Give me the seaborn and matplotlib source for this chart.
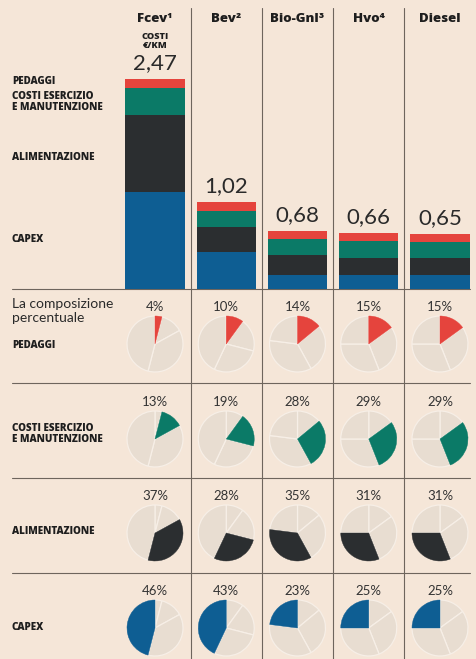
import matplotlib
matplotlib.use("Agg")
import matplotlib.pyplot as plt
import seaborn as sns
import numpy as np
import pandas as pd

# dati
categorie = ["Fcev¹", "Bev²", "Bio-Gnl³", "Hvo⁴", "Diesel"]
totali_label = ["2,47", "1,02", "0,68", "0,66", "0,65"]
capex = [1.14, 0.44, 0.16, 0.165, 0.16]
alimentazione = [0.91, 0.29, 0.24, 0.205, 0.20]
costi_esercizio = [0.32, 0.19, 0.19, 0.19, 0.19]
pedaggi = [0.10, 0.10, 0.09, 0.10, 0.10]

pct_pedaggi = [4, 10, 14, 15, 15]
pct_costi = [13, 19, 28, 29, 29]
pct_alim = [37, 28, 35, 31, 31]
pct_capex = [46, 43, 23, 25, 25]

voci = ["PEDAGGI", "COSTI ESERCIZIO\nE MANUTENZIONE", "ALIMENTAZIONE", "CAPEX"]

# colori
BG = "#f5e6d8"
PIE_BG = "#e8ddd1"
ROSSO = "#e5443d"
VERDE = "#0b7a67"
NERO = "#2b2e30"
BLU = "#0e5e93"
LINEA = "#6e655d"
colori = [ROSSO, VERDE, NERO, BLU]

sns.set_theme(style="white")
plt.rcParams['font.family'] = ['Open Sans', 'DejaVu Sans']
plt.rcParams['figure.facecolor'] = BG

FONT_NUM = ['Lato', 'DejaVu Sans']
FONT_BOLD = ['Open Sans', 'DejaVu Sans']

W, H = 477, 659
fig = plt.figure(figsize=(W / 100, H / 100), dpi=100)
fig.patch.set_facecolor(BG)

# layout in pixel
x0 = 155.0
passo = 71.25
base_y = 289
px_per_unit = 85.0

# asse di sfondo per linee e testi
ov = fig.add_axes([0, 0, 1, 1])
ov.set_xlim(0, W)
ov.set_ylim(H, 0)
ov.axis("off")
ov.patch.set_alpha(0)

for k in range(4):
    xs = x0 + passo * (k + 0.5)
    ov.plot([xs, xs], [8, H], color=LINEA, lw=0.8)
for ys in [base_y, 383, 478, 573]:
    ov.plot([12, 470], [ys, ys], color=LINEA, lw=0.8)

# --- barre impilate ---
df = pd.DataFrame({
    "cat": categorie,
    "capex": capex,
    "alim": alimentazione,
    "costi": costi_esercizio,
    "pedaggi": pedaggi,
})
df["l1"] = df["capex"]
df["l2"] = df["l1"] + df["alim"]
df["l3"] = df["l2"] + df["costi"]
df["l4"] = df["l3"] + df["pedaggi"]

axb = fig.add_axes([12.5 / W, (H - base_y) / H, passo * 6.5 / W, base_y / H])
for col, c in zip(["l4", "l3", "l2", "l1"], colori):
    sns.barplot(data=df, x="cat", y=col, color=c, saturation=1, width=0.83,
                ax=axb, order=categorie, linewidth=0, edgecolor="none")
axb.set_xlim(-2, 4.5)
axb.set_ylim(0, base_y / px_per_unit)
axb.axis("off")
axb.patch.set_alpha(0)

for i, lab in enumerate(totali_label):
    axb.text(i, df["l4"][i] + 0.07, lab, ha="center", va="bottom",
             fontsize=16, family=FONT_NUM, color="#2a2a2a")

# intestazioni colonne
for i, c in enumerate(categorie):
    ov.text(x0 + passo * i, 19, c, ha="center", va="center",
            fontsize=9.5, fontweight=800, family=FONT_BOLD, color="#1e1e1e")
ov.text(x0, 41, "COSTI\n€/KM", ha="center", va="center", fontsize=6.6,
        fontweight=800, family=FONT_BOLD, color="#1e1e1e", linespacing=0.9)

# etichette a sinistra delle barre
lab_kw = dict(ha="left", va="center", fontsize=7.1, fontweight=800,
              family=FONT_BOLD, color="#1e1e1e", linespacing=0.9)
ov.text(12, 82, voci[0], **lab_kw)
ov.text(12, 102, voci[1], **lab_kw)
ov.text(12, 158, voci[2], **lab_kw)
ov.text(12, 240, voci[3], **lab_kw)

# --- torte ---
ov.text(12, 311, "La composizione\npercentuale", ha="left", va="center",
        fontsize=10, family=FONT_NUM, color="#2a2a2a", linespacing=1.1)

righe_y = [344, 439, 533, 628]
etich_y = [346, 434, 532, 627]
raggio = 28
percentuali = np.array([pct_pedaggi, pct_costi, pct_alim, pct_capex])

for r in range(4):
    ov.text(12, etich_y[r], voci[r], **lab_kw)
    for i in range(len(categorie)):
        cx = x0 + passo * i
        cy = righe_y[r]
        axp = fig.add_axes([(cx - raggio) / W, (H - cy - raggio) / H,
                            2 * raggio / W, 2 * raggio / H])
        vals = percentuali[:, i]
        cols = [PIE_BG] * 4
        cols[r] = colori[r]
        wedges, _ = axp.pie(vals, colors=cols, startangle=90, counterclock=False,
                            wedgeprops=dict(edgecolor="#f7efe7", linewidth=0.9))
        wedges[r].set_edgecolor(colori[r])
        wedges[r].set_linewidth(0.3)
        wedges[r].set_zorder(3)
        axp.set_xlim(-1, 1)
        axp.set_ylim(-1, 1)
        axp.axis("off")
        ov.text(cx, cy - 37, f"{vals[r]}%", ha="center", va="center",
                fontsize=9.5, family=FONT_NUM, color="#333333")

fig.savefig("out.png", dpi=100, facecolor=BG)
